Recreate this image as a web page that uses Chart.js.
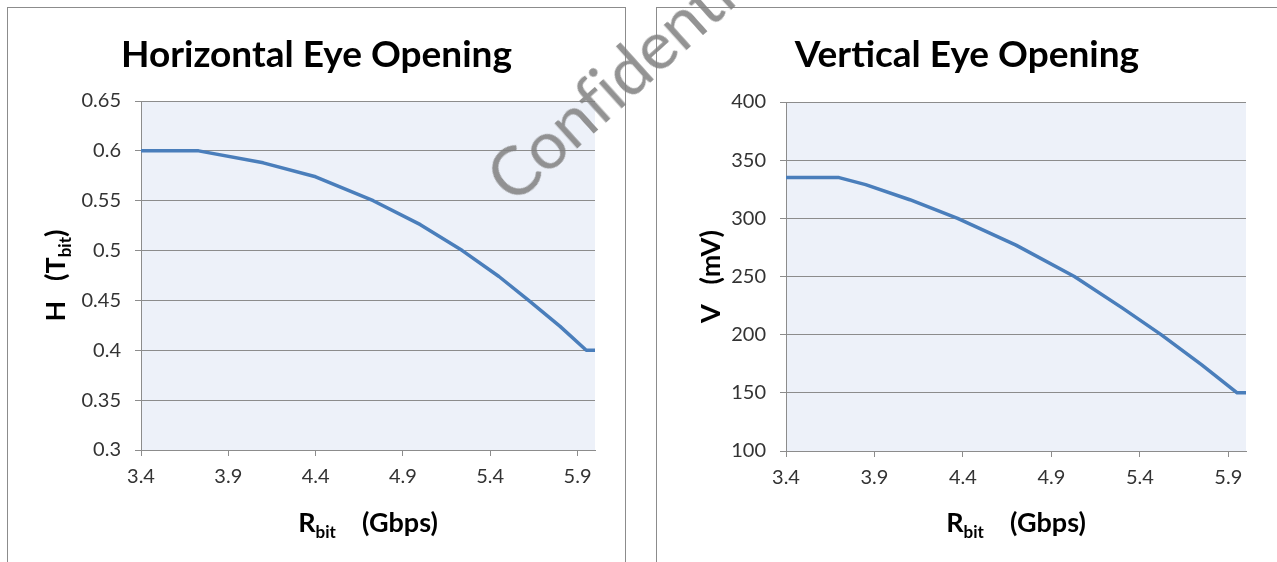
<!DOCTYPE html>
<html>
<head>
<meta charset="utf-8">
<title>Eye Opening</title>
<script src="https://cdn.jsdelivr.net/npm/chart.js@4.4.1/dist/chart.umd.min.js"></script>
<style>
  html, body { margin: 0; padding: 0; background: #fff; overflow: hidden; }
  body { width: 1277px; height: 562px; position: relative; }
  .panel { position: absolute; top: 7px; border: 1px solid #8c8c8c; border-bottom: none; }
  #leftPanel { left: 7px; width: 617px; height: 570px; }
  #rightPanel { left: 656px; width: 640px; height: 570px; border-right: none; }
  canvas { display: block; }
  #watermark {
    position: absolute; left: 474px; top: 162px;
    font-family: "Lato", sans-serif; font-weight: 400; font-size: 67px; line-height: 1;
    letter-spacing: -0.5px;
    color: rgba(128, 128, 128, 0.85); white-space: nowrap;
    transform: rotate(-42deg); transform-origin: 0 0; pointer-events: none;
  }
</style>
</head>
<body>
<div class="panel" id="leftPanel"><canvas id="hChart" width="617" height="554"></canvas></div>
<div class="panel" id="rightPanel"><canvas id="vChart" width="620" height="554"></canvas></div>
<div id="watermark">Confidential</div>
<script>
// x axis ticks shared by both charts
const xTicks = [3.4, 3.9, 4.4, 4.9, 5.4, 5.9];
const xTickLabels = ["3.4", "3.9", "4.4", "4.9", "5.4", "5.9"];

// Horizontal eye opening (T_bit) vs bit rate (Gbps)
const rateH = [3.4, 3.73, 4.1, 4.4, 4.73, 5.0, 5.24, 5.45, 5.62, 5.8, 5.95, 6.0];
const hOpen = [0.6, 0.6, 0.588, 0.574, 0.55, 0.526, 0.5, 0.474, 0.45, 0.424, 0.4, 0.4];
const hTicks = [0.3, 0.35, 0.4, 0.45, 0.5, 0.55, 0.6, 0.65];
const hTickLabels = ["0.3", "0.35", "0.4", "0.45", "0.5", "0.55", "0.6", "0.65"];

// Vertical eye opening (mV) vs bit rate (Gbps)
const rateV = [3.4, 3.7, 3.85, 4.1, 4.37, 4.7, 5.03, 5.3, 5.52, 5.75, 5.95, 6.0];
const vOpen = [335, 335, 329, 316, 300, 277, 250, 223, 200, 174, 150, 150];
const vTicks = [100, 150, 200, 250, 300, 350, 400];
const vTickLabels = ["100", "150", "200", "250", "300", "350", "400"];

const lineColor = "#4a7ebb";
const gridColor = "#8c8c8c";
const plotBg = "#edf1f9";
const tickColor = "#333";

// fill the plot area
const plotBackground = {
  id: "plotBackground",
  beforeDraw(chart) {
    const { ctx, chartArea } = chart;
    ctx.save();
    ctx.fillStyle = plotBg;
    ctx.fillRect(chartArea.left, chartArea.top, chartArea.right - chartArea.left, chartArea.bottom - chartArea.top);
    ctx.restore();
  },
};

// axis titles with subscripts (Chart.js titles can't do that)
function drawParts(ctx, parts) {
  const mainFont = "bold 27px Lato";
  const subFont = "bold 17px Lato";
  let total = 0;
  parts.forEach((p) => {
    ctx.font = p.sub ? subFont : mainFont;
    total += ctx.measureText(p.t).width;
  });
  let x = -total / 2;
  ctx.textBaseline = "alphabetic";
  ctx.textAlign = "left";
  parts.forEach((p) => {
    ctx.font = p.sub ? subFont : mainFont;
    ctx.fillText(p.t, x, p.sub ? 6 : 0);
    x += ctx.measureText(p.t).width;
  });
}

const axisTitles = {
  id: "axisTitles",
  afterDraw(chart, args, opts) {
    const { ctx, chartArea } = chart;
    ctx.save();
    ctx.fillStyle = "#000";
    ctx.translate((chartArea.left + chartArea.right) / 2, opts.xBaseline);
    drawParts(ctx, opts.x);
    ctx.restore();

    ctx.save();
    ctx.fillStyle = "#000";
    ctx.translate(opts.yBaseline, (chartArea.top + chartArea.bottom) / 2);
    ctx.rotate(-Math.PI / 2);
    drawParts(ctx, opts.y);
    ctx.restore();
  },
};

function makeChart(id, cfg) {
  const points = cfg.xs.map((x, i) => ({ x: x, y: cfg.ys[i] }));
  return new Chart(document.getElementById(id), {
    type: "line",
    data: {
      datasets: [
        {
          data: points,
          borderColor: lineColor,
          borderWidth: 3.5,
          pointRadius: 0,
          tension: 0,
          borderJoinStyle: "round",
          fill: false,
        },
      ],
    },
    options: {
      responsive: false,
      animation: false,
      layout: { padding: { left: cfg.pad, right: cfg.pad, top: 0, bottom: 0 } },
      plugins: {
        legend: { display: false },
        tooltip: { enabled: false },
        title: {
          display: true,
          text: cfg.title,
          color: "#000",
          font: { family: "Lato", size: 37, weight: "bold" },
          padding: { top: 25, bottom: cfg.titleBottom },
        },
        axisTitles: {
          x: cfg.xTitle,
          y: cfg.yTitle,
          xBaseline: 524,
          yBaseline: cfg.yBaseline,
        },
      },
      scales: {
        x: {
          type: "linear",
          min: 3.4,
          max: 6.0,
          afterBuildTicks(axis) {
            axis.ticks = xTicks.map((v) => ({ value: v }));
          },
          afterFit(axis) {
            axis.height = cfg.xHeight;
          },
          ticks: {
            color: tickColor,
            font: { family: "Lato", size: 20 },
            padding: 9,
            maxRotation: 0,
            callback: (v, i) => xTickLabels[i],
          },
          grid: { drawOnChartArea: false, drawTicks: true, tickLength: 6, color: gridColor },
          border: { display: true, color: gridColor },
        },
        y: {
          type: "linear",
          min: cfg.yTicks[0],
          max: cfg.yTicks[cfg.yTicks.length - 1],
          afterBuildTicks(axis) {
            axis.ticks = cfg.yTicks.map((v) => ({ value: v }));
          },
          afterFit(axis) {
            axis.width = cfg.yWidth;
          },
          ticks: {
            color: tickColor,
            font: { family: "Lato", size: 20 },
            padding: 14,
            callback: (v, i) => cfg.yTickLabels[i],
          },
          grid: { drawTicks: true, tickLength: 6, color: gridColor },
          border: { display: true, color: gridColor },
        },
      },
    },
    plugins: [plotBackground, axisTitles],
  });
}

const xAxisTitle = [{ t: "R" }, { t: "bit", sub: true }, { t: "    (Gbps)" }];

makeChart("hChart", {
  title: "Horizontal Eye Opening",
  xs: rateH,
  ys: hOpen,
  yTicks: hTicks,
  yTickLabels: hTickLabels,
  pad: 30,
  yWidth: 103,
  xHeight: 112,
  titleBottom: 23.6,
  yBaseline: 57,
  xTitle: xAxisTitle,
  yTitle: [{ t: "H" }, { t: "   (T" }, { t: "bit", sub: true }, { t: ")" }],
});

makeChart("vChart", {
  title: "Vertical Eye Opening",
  xs: rateV,
  ys: vOpen,
  yTicks: vTicks,
  yTickLabels: vTickLabels,
  pad: 31,
  yWidth: 98,
  xHeight: 111,
  titleBottom: 24.6,
  yBaseline: 63,
  xTitle: xAxisTitle,
  yTitle: [{ t: "V" }, { t: "   (mV)" }],
});
</script>
</body>
</html>
